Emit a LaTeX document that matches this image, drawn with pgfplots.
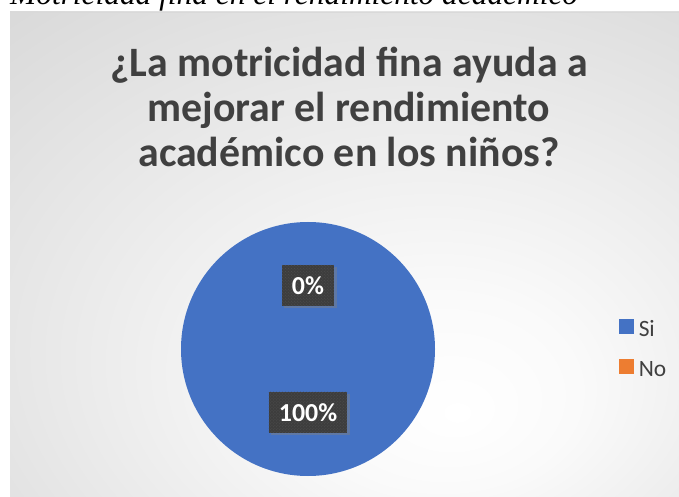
\documentclass[border=0pt]{standalone}
\usepackage{fontspec}
\setmainfont{Carlito}
\newfontfamily\capfont{Liberation Serif}
\usepackage{pgfplots}
\pgfplotsset{compat=1.18}
\usepackage{pgfplotstable}
\usetikzlibrary{shadows,patterns,calc}

\definecolor{siblue}{HTML}{4472C4}
\definecolor{noorange}{HTML}{ED7D31}
\definecolor{txtgray}{HTML}{404040}
\definecolor{lblbox}{HTML}{3D3D3D}
\definecolor{lbldot}{HTML}{4F4F4F}

\pgfdeclareradialshading{chartbg}{\pgfpoint{8bp}{-16bp}}{%
  color(0bp)=(white); color(10bp)=(white!98!black); color(71bp)=(black!26)}

% pie data (percent)
\pgfplotstableread{
label value
Si    100
No    0
}\piedata

\begin{document}
\begin{tikzpicture}
\useasboundingbox (0,0) rectangle (679bp,497bp);
\clip (0,0) rectangle (679bp,497bp);

% chart area background
\shade[shading=chartbg] (10bp,-6bp) rectangle (690bp,485bp);
\draw[white!85!black, line width=0.8bp] (10bp,485bp) -- (690bp,485bp);

% caption above the chart (cut off at the top)
\node[anchor=base west, inner sep=0pt, font=\capfont\itshape\fontsize{31.5}{36}\selectfont]
  at (10bp,492.5bp) {Motricidad fina en el rendimiento académico};

% title
\begin{scope}[every node/.style={anchor=base, inner sep=0pt, text=txtgray,
    font=\bfseries\fontsize{42}{46}\selectfont}]
\node at (349bp,420bp) {¿La motricidad fina ayuda a};
\node at (349bp,375bp) {mejorar el rendimiento};
\node at (349bp,330bp) {académico en los niños?};
\end{scope}

% slice geometry from the table: start at 12 o'clock, clockwise
\pgfplotstablegetrowsof{\piedata}
\pgfmathtruncatemacro{\nrows}{\pgfplotsretval}
\xdef\total{0}
\foreach \i in {1,...,\nrows} {
  \pgfmathtruncatemacro{\rowno}{\i-1}
  \pgfplotstablegetelem{\rowno}{value}\of\piedata
  \pgfmathsetmacro{\tmpsum}{\total+\pgfplotsretval}
  \xdef\total{\tmpsum}
}
\xdef\cum{90}
\foreach \i in {1,...,\nrows} {
  \pgfmathtruncatemacro{\rowno}{\i-1}
  \pgfplotstablegetelem{\rowno}{value}\of\piedata
  \let\val\pgfplotsretval
  \pgfmathsetmacro{\sweep}{\val/\total*360}
  \pgfmathsetmacro{\endang}{\cum-\sweep}
  \pgfmathsetmacro{\midang}{\cum-\sweep/2}
  \pgfmathtruncatemacro{\pct}{round(\val/\total*100)}
  \expandafter\xdef\csname sa\rowno\endcsname{\cum}
  \expandafter\xdef\csname ea\rowno\endcsname{\endang}
  \expandafter\xdef\csname ma\rowno\endcsname{\midang}
  \expandafter\xdef\csname sw\rowno\endcsname{\sweep}
  \expandafter\xdef\csname pc\rowno\endcsname{\pct}
  \xdef\cum{\endang}
}

\begin{axis}[
  at={(308bp,148bp)}, anchor=center,
  scale only axis, width=254bp, height=254bp,
  xmin=-1, xmax=1, ymin=-1, ymax=1,
  hide axis, clip=false,
  legend style={draw=none, fill=none, at={(1.725,0.5)}, anchor=west,
    font=\fontsize{23.5}{25}\selectfont, text=txtgray,
    row sep=19bp, inner sep=0pt,
    nodes={inner xsep=5bp, inner ysep=2bp}},
  legend cell align=left,
  legend image code/.code={\fill[#1] (0bp,-4bp) rectangle (14bp,10bp);},
]
\addlegendimage{siblue}
\addlegendentry{Si}
\addlegendimage{noorange}
\addlegendentry{No}

\pgfplotsinvokeforeach{0,1}{
  \ifnum#1=0 \def\slicecol{siblue}\else\def\slicecol{noorange}\fi
  \edef\sa{\csname sa#1\endcsname}\edef\ea{\csname ea#1\endcsname}
  \edef\sw{\csname sw#1\endcsname}
  \ifdim\sw pt>359.99pt
    \edef\temp{\noexpand\fill[\slicecol] (axis cs:0,0) circle[radius=127bp];}
  \else\ifdim\sw pt>0.001pt
    \edef\temp{\noexpand\fill[\slicecol] (axis cs:0,0) -- +(\sa:127bp)
      arc[start angle=\sa, end angle=\ea, radius=127bp] -- cycle;}
  \else
    \def\temp{}
  \fi\fi
  \temp
}
\pgfplotsinvokeforeach{0,1}{
  \edef\ma{\csname ma#1\endcsname}\edef\pc{\csname pc#1\endcsname}
  \edef\temp{\noexpand\node[fill=lblbox, text=white,
    font=\noexpand\bfseries\noexpand\fontsize{26}{28}\noexpand\selectfont,
    minimum height=41bp, inner xsep=10bp,
    drop shadow={opacity=0.45, shadow xshift=2.5bp, shadow yshift=-2.5bp},
    postaction={pattern=crosshatch dots, pattern color=lbldot}]
    at ($(axis cs:0,0)+(\ma:63.5bp)$) {\pc\noexpand\%};}
  \temp
}
\end{axis}
\end{tikzpicture}
\end{document}
